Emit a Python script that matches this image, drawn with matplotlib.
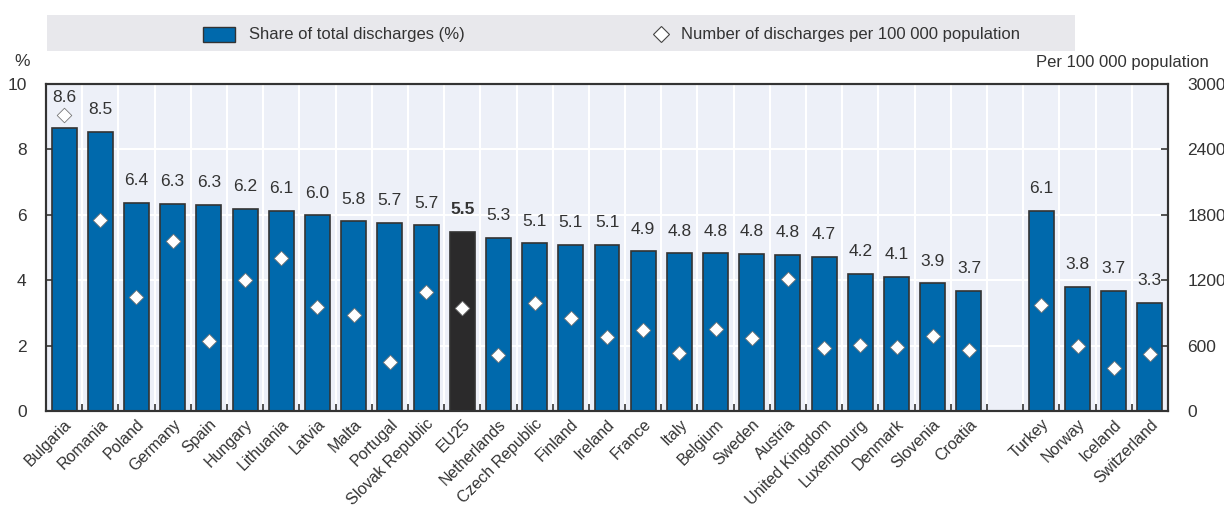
import matplotlib
matplotlib.use("Agg")
import matplotlib.pyplot as plt
from matplotlib.patches import Rectangle
from matplotlib.lines import Line2D
import numpy as np

plt.rcParams['font.family'] = ['Liberation Sans', 'DejaVu Sans']

countries = ["Bulgaria", "Romania", "Poland", "Germany", "Spain", "Hungary", "Lithuania",
             "Latvia", "Malta", "Portugal", "Slovak Republic", "EU25", "Netherlands",
             "Czech Republic", "Finland", "Ireland", "France", "Italy", "Belgium", "Sweden",
             "Austria", "United Kingdom", "Luxembourg", "Denmark", "Slovenia", "Croatia",
             "", "Turkey", "Norway", "Iceland", "Switzerland"]
share = [8.65, 8.53, 6.37, 6.33, 6.30, 6.18, 6.12, 5.98, 5.80, 5.75, 5.68, 5.47, 5.30,
         5.13, 5.08, 5.08, 4.88, 4.82, 4.82, 4.80, 4.78, 4.72, 4.20, 4.10, 3.90, 3.67,
         None, 6.12, 3.80, 3.68, 3.30]
share_labels = ["8.6", "8.5", "6.4", "6.3", "6.3", "6.2", "6.1", "6.0", "5.8", "5.7", "5.7",
                "5.5", "5.3", "5.1", "5.1", "5.1", "4.9", "4.8", "4.8", "4.8", "4.8", "4.7",
                "4.2", "4.1", "3.9", "3.7", "", "6.1", "3.8", "3.7", "3.3"]
per100k = [2720, 1755, 1043, 1564, 638, 1206, 1402, 951, 877, 445, 1089, 945, 512,
           988, 853, 678, 742, 531, 755, 672, 1212, 574, 607, 589, 687, 564,
           None, 975, 592, 396, 527]

BLUE = "#0069AC"
DARK = "#2B2A2B"
BG = "#EDF0F8"
TXT = "#333333"

fig = plt.figure(figsize=(12.24, 5.07), dpi=100)
ax = fig.add_axes([46/1224, 96/507, (1168-46)/1224, (411-84)/507])
ax.set_facecolor(BG)
ax2 = ax.twinx()

x = np.arange(len(countries))
for i, (c, v) in enumerate(zip(countries, share)):
    if v is None:
        continue
    col = DARK if c == "EU25" else BLUE
    ax.bar(i, v, width=0.69, color=col, edgecolor="#333333", linewidth=1.2, zorder=3)
    off = 22 if c == "Bulgaria" else 16
    ax.annotate(share_labels[i], (i, v), xytext=(0, off), textcoords="offset points",
                ha="center", va="center", fontsize=12.5, color=TXT,
                fontweight="bold" if c == "EU25" else "normal", zorder=5)

px = [i for i, v in enumerate(per100k) if v is not None]
py = [v for v in per100k if v is not None]
ax2.scatter(px, py, marker="D", s=55, facecolor="white", edgecolor="#777777",
            linewidth=0.6, zorder=6)

ax.set_xlim(-0.5, len(countries) - 0.5)
ax.set_ylim(0, 10)
ax2.set_ylim(0, 3000)
ax.set_yticks([0, 2, 4, 6, 8, 10])
ax2.set_yticks([0, 600, 1200, 1800, 2400, 3000])

# grid
for b in np.arange(0.5, len(countries) - 0.5, 1.0):
    ax.axvline(b, color="white", linewidth=1.5, zorder=1)
for yv in [2, 4, 6, 8]:
    ax.axhline(yv, color="white", linewidth=1.5, zorder=1)

ax.set_xticks(x)
ax.set_xticklabels(countries, rotation=45, ha="right", rotation_mode="anchor",
                   fontsize=11.5, color=TXT)
ax.tick_params(axis="x", length=0, pad=4)
ax.set_xticks(np.arange(0.5, len(countries) - 0.5, 1.0), minor=True)
ax.tick_params(axis="x", which="minor", direction="in", length=5, width=1.2, color="#333333")
ax.tick_params(axis="y", direction="in", length=5, width=1.2, color="#333333",
               labelsize=12.5, labelcolor=TXT, pad=14)
ax2.tick_params(axis="y", direction="in", length=5, width=1.2, color="#333333",
                labelsize=12.5, labelcolor=TXT, pad=14)

for a in (ax, ax2):
    for s in a.spines.values():
        s.set_color("#333333")
        s.set_linewidth(1.5)
ax2.set_zorder(ax.get_zorder() + 1)
ax2.patch.set_visible(False)

# legend band
fig.patches.append(Rectangle((47/1224, (507-51)/507), (1075-47)/1224, 36/507,
                             transform=fig.transFigure, facecolor="#E8E8EC",
                             edgecolor="none", zorder=0))
fig.patches.append(Rectangle((203/1224, (507-42)/507), 32/1224, 15/507,
                             transform=fig.transFigure, facecolor=BLUE,
                             edgecolor="#333333", linewidth=1.0, zorder=1))
fig.text(249/1224, (507-34)/507, "Share of total discharges (%)", fontsize=12,
         color=TXT, va="center", ha="left")
fig.add_artist(Line2D([661/1224], [(507-34)/507], marker="D", markersize=8,
                      markerfacecolor="white", markeredgecolor="#444444",
                      markeredgewidth=0.8, transform=fig.transFigure, linestyle="none"))
fig.text(681/1224, (507-34)/507, "Number of discharges per 100 000 population",
         fontsize=12, color=TXT, va="center", ha="left")

fig.text(22/1224, (507-62)/507, "%", fontsize=12.5, color=TXT, va="center", ha="center")
fig.text(1209/1224, (507-62)/507, "Per 100 000 population", fontsize=12, color=TXT,
         va="center", ha="right")

fig.savefig("out.png", dpi=100)
